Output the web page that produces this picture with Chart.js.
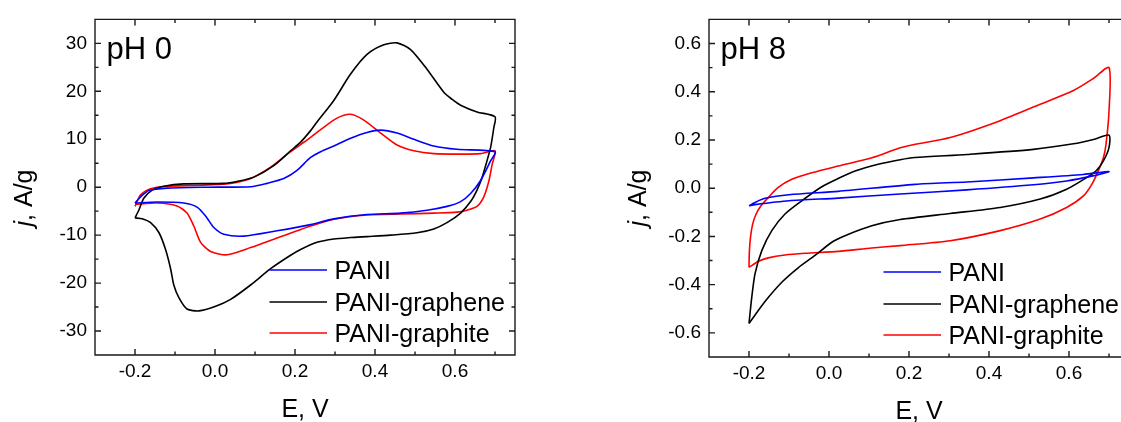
<!DOCTYPE html>
<html>
<head>
<meta charset="utf-8">
<title>CV of PANI composites</title>
<script src="https://cdn.jsdelivr.net/npm/chart.js@4.4.1/dist/chart.umd.min.js"></script>
<style>
  html, body { margin: 0; padding: 0; background: #fff; }
  body { position: relative; width: 1121px; height: 422px; overflow: hidden; }
  .panel { position: absolute; top: 0; height: 422px; }
  #left { left: 0; width: 540px; }
  #right { left: 600px; width: 521px; }
</style>
</head>
<body>
<div class="panel" id="left"><canvas id="ph0" width="540" height="422"></canvas></div>
<div class="panel" id="right"><canvas id="ph8" width="521" height="422"></canvas></div>
<script>
"use strict";

var seriesNames = ['PANI', 'PANI-graphene', 'PANI-graphite'];
var seriesColors = ['#0000ff', '#000000', '#ff0000'];

var eTicks = [-0.2, 0.0, 0.2, 0.4, 0.6];
var eMinor = [-0.1, 0.1, 0.3, 0.5, 0.7];
var jTicksPh0 = [-30, -20, -10, 0, 10, 20, 30];
var jMinorPh0 = [-25, -15, -5, 5, 15, 25];
var jTicksPh8 = [-0.6, -0.4, -0.2, 0.0, 0.2, 0.4, 0.6];
var jMinorPh8 = [-0.5, -0.3, -0.1, 0.1, 0.3, 0.5];

// each loop: forward sweep -0.2 -> 0.7 V, then back to -0.2 V
var ph0PaniE = [-0.2, -0.186, -0.165, -0.12, -0.02, 0.09, 0.13, 0.172, 0.205, 0.239, 0.264, 0.297, 0.339, 0.38, 0.414, 0.455, 0.497, 0.547, 0.605, 0.7,
  0.689, 0.664, 0.639, 0.614, 0.58, 0.53, 0.464, 0.38, 0.297, 0.239, 0.155, 0.072, 0.022, -0.003, -0.02, -0.044, -0.078, -0.145, -0.2];
var ph0PaniJ = [-3.3, -2.0, -0.7, -0.2, 0.0, 0.1, 0.8, 1.8, 3.5, 6.2, 7.4, 8.6, 10.2, 11.4, 11.9, 11.3, 10.0, 8.6, 7.9, 7.4,
  5.5, 1.4, -1.3, -3.0, -4.0, -4.8, -5.4, -5.7, -6.6, -7.8, -9.1, -10.2, -9.8, -8.4, -6.4, -4.2, -3.3, -3.1, -3.3];

var ph0GrapheneE = [-0.2, -0.19, -0.178, -0.157, -0.128, -0.078, 0.022, 0.055, 0.097, 0.147, 0.189, 0.214, 0.239, 0.255, 0.297, 0.339, 0.38, 0.422, 0.455, 0.489, 0.53, 0.572, 0.593, 0.614, 0.655, 0.7,
  0.697, 0.689, 0.68, 0.668, 0.655, 0.639, 0.614, 0.58, 0.547, 0.505, 0.439, 0.38, 0.339, 0.297, 0.255, 0.214, 0.189, 0.139, 0.089, 0.039, 0.0, -0.04, -0.07, -0.09, -0.103, -0.111, -0.124, -0.14, -0.161, -0.182, -0.2];
var ph0GrapheneJ = [-6.4, -4.7, -2.3, -0.6, 0.2, 0.7, 0.8, 1.2, 2.1, 4.5, 7.6, 9.4, 11.8, 13.6, 18.1, 23.6, 27.7, 29.7, 30.1, 28.7, 24.6, 19.8, 18.3, 17.1, 15.7, 14.7,
  12.4, 8.3, 5.5, 2.1, -0.6, -3.0, -5.4, -7.4, -8.7, -9.5, -10.0, -10.3, -10.5, -10.8, -11.5, -13.0, -14.2, -17.0, -20.4, -23.4, -24.9, -25.8, -25.4, -23.1, -20.4, -17.0, -12.9, -9.5, -7.4, -6.6, -6.4];

var ph0GraphiteE = [-0.2, -0.186, -0.161, -0.12, -0.036, 0.039, 0.089, 0.139, 0.189, 0.214, 0.239, 0.264, 0.305, 0.339, 0.372, 0.414, 0.455, 0.497, 0.547, 0.614, 0.664, 0.7,
  0.693, 0.685, 0.672, 0.655, 0.63, 0.605, 0.547, 0.464, 0.38, 0.297, 0.239, 0.205, 0.155, 0.089, 0.03, -0.011, -0.036, -0.053, -0.07, -0.095, -0.145, -0.2];
var ph0GraphiteJ = [-4.0, -1.6, -0.3, 0.2, 0.4, 0.8, 1.8, 4.2, 7.4, 8.9, 10.4, 12.0, 14.4, 15.2, 14.0, 11.3, 8.8, 7.6, 7.0, 6.9, 7.0, 7.6,
  4.8, 1.4, -2.0, -4.0, -4.8, -5.2, -5.4, -5.6, -5.8, -6.7, -8.1, -9.1, -10.6, -12.6, -14.1, -13.4, -11.5, -8.1, -5.4, -3.9, -3.3, -3.6];

var ph8PaniE = [-0.2, -0.185, -0.16, -0.1, 0.023, 0.215, 0.345, 0.511, 0.636, 0.7,
  0.66, 0.594, 0.511, 0.345, 0.178, 0.023, -0.1, -0.185, -0.2];
var ph8PaniJ = [-0.073, -0.059, -0.042, -0.027, -0.013, 0.016, 0.026, 0.043, 0.057, 0.069,
  0.051, 0.030, 0.014, -0.007, -0.024, -0.041, -0.052, -0.068, -0.073];

var ph8GrapheneE = [-0.2, -0.193, -0.185, -0.168, -0.143, -0.11, -0.068, -0.018, 0.023, 0.065, 0.123, 0.178, 0.215, 0.345, 0.511, 0.611, 0.661, 0.7,
  0.7, 0.686, 0.669, 0.644, 0.594, 0.528, 0.428, 0.303, 0.178, 0.107, 0.04, 0.007, -0.035, -0.077, -0.118, -0.16, -0.2];
var ph8GrapheneJ = [-0.561, -0.451, -0.355, -0.259, -0.176, -0.107, -0.052, 0.006, 0.04, 0.071, 0.099, 0.118, 0.127, 0.14, 0.161, 0.184, 0.202, 0.22,
  0.168, 0.113, 0.074, 0.044, -0.004, -0.045, -0.08, -0.105, -0.13, -0.156, -0.197, -0.224, -0.279, -0.33, -0.39, -0.47, -0.561];

var ph8GraphiteE = [-0.2, -0.199, -0.196, -0.191, -0.183, -0.17, -0.152, -0.127, -0.093, -0.043, 0.023, 0.107, 0.178, 0.215, 0.303, 0.428, 0.528, 0.611, 0.661, 0.7,
  0.7, 0.6925, 0.686, 0.673, 0.657, 0.636, 0.594, 0.528, 0.428, 0.303, 0.178, 0.107, 0.023, -0.06, -0.11, -0.152, -0.176, -0.2];
var ph8GraphiteJ = [-0.328, -0.26, -0.2, -0.15, -0.11, -0.073, -0.039, 0.003, 0.037, 0.064, 0.092, 0.126, 0.168, 0.182, 0.21, 0.28, 0.348, 0.405, 0.455, 0.50,
  0.319, 0.182, 0.126, 0.071, 0.016, -0.032, -0.08, -0.128, -0.176, -0.218, -0.238, -0.248, -0.262, -0.27, -0.277, -0.289, -0.303, -0.328];

var FONT = "'Liberation Sans', Arial, Helvetica, sans-serif";

function points(es, js) {
    return es.map(function (e, i) { return { x: e, y: js[i] }; });
}

/**
 * Origin-style box: frame, inward major/minor ticks on all sides,
 * panel label, axis titles and the legend inside the plot.
 * With openRight the box is cut by the page edge, so no right side.
 */
var originFrame = {
    id: 'originFrame',
    afterDraw: function (chart, args, opts) {
        var ctx = chart.ctx, a = chart.chartArea;
        var sx = chart.scales.x, sy = chart.scales.y;
        ctx.save();
        ctx.strokeStyle = '#1a1a1a';
        ctx.lineWidth = 1.4;
        ctx.beginPath();
        if (opts.openRight) {
            ctx.moveTo(a.right + 2, a.top);
            ctx.lineTo(a.left, a.top);
            ctx.lineTo(a.left, a.bottom);
            ctx.lineTo(a.right + 2, a.bottom);
        } else {
            ctx.rect(a.left, a.top, a.right - a.left, a.bottom - a.top);
        }
        ctx.stroke();

        ctx.beginPath();
        function xMark(v, len) {
            var p = sx.getPixelForValue(v);
            ctx.moveTo(p, a.bottom); ctx.lineTo(p, a.bottom - len);
            ctx.moveTo(p, a.top); ctx.lineTo(p, a.top + len);
        }
        function yMark(v, len) {
            var p = sy.getPixelForValue(v);
            ctx.moveTo(a.left, p); ctx.lineTo(a.left + len, p);
            if (!opts.openRight) {
                ctx.moveTo(a.right, p); ctx.lineTo(a.right - len, p);
            }
        }
        eTicks.forEach(function (v) { xMark(v, 6); });
        eMinor.forEach(function (v) { xMark(v, 3.5); });
        opts.jMajor.forEach(function (v) { yMark(v, 6); });
        opts.jMinor.forEach(function (v) { yMark(v, 3.5); });
        ctx.stroke();

        ctx.fillStyle = '#000';
        ctx.textBaseline = 'alphabetic';

        // panel label
        ctx.font = '31px ' + FONT;
        ctx.textAlign = 'left';
        ctx.fillText(opts.label, a.left + 11.5, a.top + 39.5);

        // x title, centred on the full box width
        ctx.font = '25px ' + FONT;
        ctx.textAlign = 'center';
        ctx.fillText('E, V', a.left + 210, a.bottom + 61.5);

        // y title with italic j
        ctx.save();
        ctx.translate(a.left - 63, 198);
        ctx.rotate(-Math.PI / 2);
        ctx.textAlign = 'left';
        ctx.font = 'italic 25px ' + FONT;
        var wj = ctx.measureText('j').width;
        ctx.font = '25px ' + FONT;
        var wr = ctx.measureText(', A/g').width;
        var x0 = -(wj + wr) / 2;
        ctx.font = 'italic 25px ' + FONT;
        ctx.fillText('j', x0, 0);
        ctx.font = '25px ' + FONT;
        ctx.fillText(', A/g', x0 + wj, 0);
        ctx.restore();

        // legend
        var rows = [85, 53, 22];
        ctx.font = '25px ' + FONT;
        ctx.textAlign = 'left';
        chart.data.datasets.forEach(function (ds, i) {
            var y = a.bottom - rows[i];
            ctx.beginPath();
            ctx.strokeStyle = ds.borderColor;
            ctx.lineWidth = 1.6;
            ctx.moveTo(a.left + 174.5, y);
            ctx.lineTo(a.left + 232, y);
            ctx.stroke();
            ctx.fillText(ds.label, a.left + 239.5, y + 9);
        });
        ctx.restore();
    }
};

function makeChart(canvasId, loops, cfg) {
    var datasets = loops.map(function (loop, i) {
        return {
            label: seriesNames[i],
            data: points(loop[0], loop[1]),
            borderColor: seriesColors[i],
            borderWidth: 1.6,
            showLine: true,
            pointRadius: 0,
            tension: 0.25,
            fill: false
        };
    });
    var tickFont = { family: FONT, size: 19 };

    return new Chart(document.getElementById(canvasId), {
        type: 'scatter',
        data: { datasets: datasets },
        plugins: [originFrame],
        options: {
            responsive: false,
            animation: false,
            layout: { padding: { top: cfg.top, right: cfg.right, left: 0, bottom: 0 } },
            plugins: {
                legend: { display: false },
                tooltip: { enabled: false },
                originFrame: { label: cfg.label, jMajor: cfg.jTicks, jMinor: cfg.jMinor, openRight: cfg.openRight }
            },
            scales: {
                x: {
                    type: 'linear',
                    min: -0.3,
                    max: cfg.eMax,
                    afterBuildTicks: function (s) { s.ticks = eTicks.map(function (v) { return { value: v }; }); },
                    afterFit: function (s) { s.height = cfg.xHeight; },
                    grid: { display: false, drawTicks: false },
                    border: { display: false },
                    ticks: {
                        font: tickFont, color: '#000', padding: 5, maxRotation: 0, autoSkip: false,
                        callback: function (v) { return v.toFixed(1); }
                    }
                },
                y: {
                    type: 'linear',
                    min: cfg.jMin,
                    max: cfg.jMax,
                    afterBuildTicks: function (s) { s.ticks = cfg.jTicks.map(function (v) { return { value: v }; }); },
                    afterFit: function (s) { s.width = cfg.yWidth; },
                    grid: { display: false, drawTicks: false },
                    border: { display: false },
                    ticks: {
                        font: tickFont, color: '#000', padding: 8, autoSkip: false,
                        callback: cfg.jFormat
                    }
                }
            }
        }
    });
}

makeChart('ph0', [[ph0PaniE, ph0PaniJ], [ph0GrapheneE, ph0GrapheneJ], [ph0GraphiteE, ph0GraphiteJ]], {
    label: 'pH 0', eMax: 0.75, jMin: -35, jMax: 35, jTicks: jTicksPh0, jMinor: jMinorPh0,
    jFormat: function (v) { return String(v); },
    top: 13, right: 25, xHeight: 67, yWidth: 95, openRight: false
});

// the pH 8 box runs past the right edge of the page: only the part up to 0.73 V shows
makeChart('ph8', [[ph8PaniE, ph8PaniJ], [ph8GrapheneE, ph8GrapheneJ], [ph8GraphiteE, ph8GraphiteJ]], {
    label: 'pH 8', eMax: 0.73, jMin: -0.7, jMax: 0.7, jTicks: jTicksPh8, jMinor: jMinorPh8,
    jFormat: function (v) { return v.toFixed(1); },
    top: 18, right: 0, xHeight: 65, yWidth: 109, openRight: true
});
</script>
</body>
</html>
